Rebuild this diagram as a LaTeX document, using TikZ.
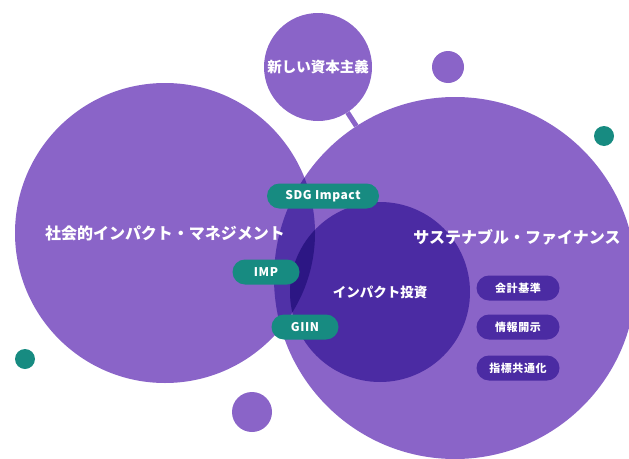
\documentclass[tikz,border=0pt]{standalone}
\usepackage{fontspec}
\newfontfamily\jp{Noto Sans CJK JP}
\newfontfamily\jpsp{Noto Sans CJK JP}[LetterSpace=5]
\definecolor{lilac}{HTML}{8A64C8}
\definecolor{lens}{HTML}{5031A7}
\definecolor{deep}{HTML}{4B2BA3}
\definecolor{deepest}{HTML}{2C1684}
\definecolor{tealish}{HTML}{178B81}
\begin{document}
\begin{tikzpicture}[x=1pt,y=-1pt]
    \tikzset{%
      blob/.style={circle, fill=lilac, inner sep=0pt},
      lbl/.style={text=white, inner sep=0pt, font=\jp\bfseries\fontsize{16}{16}\selectfont},
      pill/.style={rounded corners=12.5pt, fill=tealish, text=white, inner sep=0pt,
        minimum height=25pt, font=\jpsp\bfseries\fontsize{12}{12}\selectfont},
      tag/.style={pill, fill=deep, minimum width=83pt, font=\jpsp\bfseries\fontsize{11}{12}\selectfont},
    }
    \useasboundingbox (0,0) rectangle (629,458);
    % big circles
    \node[blob, minimum size=300pt] (smi) at (165,233) {};
    \node[blob, minimum size=362pt] (sf) at (455,278) {};
    \node[blob, minimum size=108pt] (nc) at (318,67) {};
    \draw[lilac, line width=5pt] (nc) -- (sf);
    % small dots
    \node[blob, minimum size=32pt] (d1) at (448,67) {};
    \node[blob, minimum size=40pt] (d2) at (252,412) {};
    \node[blob, fill=tealish, minimum size=20pt] (d3) at (604,136) {};
    \node[blob, fill=tealish, minimum size=20pt] (d4) at (25,359) {};
    % overlaps
    \begin{scope}
      \clip (smi.center) circle (150pt);
      \fill[lens] (sf.center) circle (181pt);
    \end{scope}
    \node[blob, fill=deep, minimum size=180pt] (ii) at (380,292) {};
    \begin{scope}
      \clip (smi.center) circle (150pt);
      \fill[deepest] (ii.center) circle (90pt);
    \end{scope}
    % texts
    \node[lbl] at (smi) {社会的インパクト・マネジメント};
    \node[lbl] at (517,237) {サステナブル・ファイナンス};
    \node[lbl, font=\jp\bfseries\fontsize{13.5}{14}\selectfont] at (ii) {インパクト投資};
    \node[lbl, font=\jp\bfseries\fontsize{14.5}{15}\selectfont] at (nc) {新しい資本主義};
    % pills
    \node[pill, minimum width=112pt] (sdg) at (323,196) {SDG Impact};
    \node[pill, minimum width=67pt] (imp) at (266,272) {IMP};
    \node[pill, minimum width=67pt] (giin) at (305,327) {GIIN};
    \node[tag] (acc) at (518,288) {会計基準};
    \node[tag] (dis) at (518,327) {情報開示};
    \node[tag] (idx) at (518,368) {指標共通化};
\end{tikzpicture}
\end{document}
